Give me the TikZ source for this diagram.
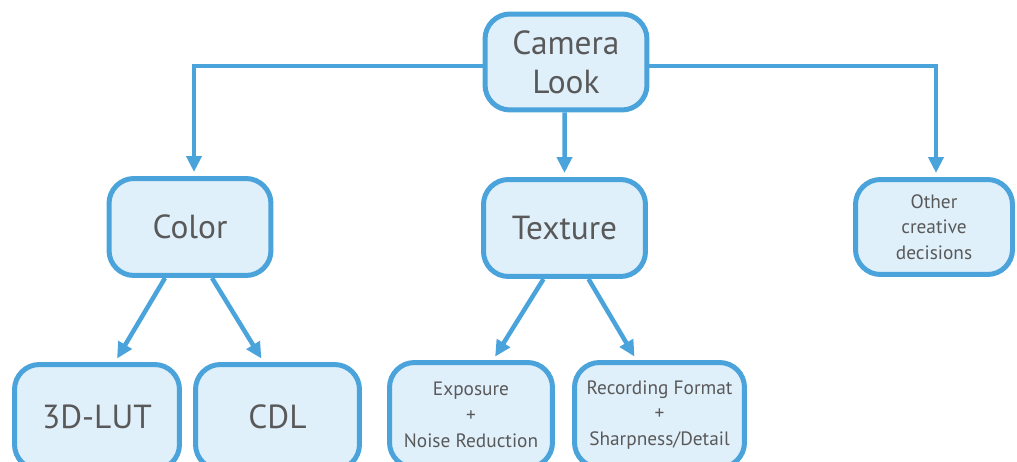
\documentclass[tikz,border=0pt]{standalone}
\usepackage{fontspec}
\setmainfont{PT Sans}
\usepackage{tikz}
\usetikzlibrary{arrows.meta}

\definecolor{boxline}{HTML}{4BA3DB}
\definecolor{boxfill}{HTML}{E0F0FB}
\definecolor{boxtext}{HTML}{595959}

\begin{document}
\begin{tikzpicture}[x=0.02cm,y=-0.02cm,
  box/.style={draw=boxline,fill=boxfill,line width=0.1cm,rounded corners=0.5cm,
    text=boxtext,align=center,inner sep=0pt},
  big/.style={box,font=\fontsize{19}{22.3}\selectfont},
  small/.style={box,font=\fontsize{11}{14.6}\selectfont},
  link/.style={draw=boxline,line width=0.09cm,-{Triangle[length=0.32cm,width=0.3cm]},shorten >=0.08cm}]
\clip (0,0) rectangle (1017,462);

% top level
\node (cam)[big,minimum width=3.24cm,minimum height=1.92cm] at (566,62) {Camera\\Look};

% second level
\node (color)[big,minimum width=3.24cm,minimum height=1.94cm] at (190,227) {Color};
\node (tex)[big,minimum width=3.24cm,minimum height=1.94cm] at (564.5,228) {Texture};
\node (other)[small,minimum width=3.14cm,minimum height=1.9cm] at (934,227) {Other\\creative\\decisions};

% third level, cut off at the bottom edge
\node (lut)[big,minimum width=3.3cm,minimum height=2.1cm] at (97,417) {3D-LUT};
\node (cdl)[big,minimum width=3.28cm,minimum height=2.1cm] at (277.5,417) {CDL};
\node (expo)[small,minimum width=3.26cm,minimum height=2.1cm] at (471,415) {Exposure\\+\\Noise Reduction};
\node (rec)[small,minimum width=3.4cm,minimum height=2.1cm] at (659.5,415) {Recording Format\\+\\Sharpness/Detail};

% connectors
\draw[link] ([yshift=-0.08cm]cam.west) -| ([xshift=0.08cm]color.north);
\draw[link] ([yshift=-0.08cm]cam.east) -| ([xshift=0.04cm]other.north);
\draw[link] ([xshift=-0.03cm]cam.south) -- (tex.north);
\draw[link] ([xshift=-0.5cm]color.south) -- ([xshift=0.36cm]lut.north);
\draw[link] ([xshift=0.44cm]color.south) -- ([xshift=-0.28cm]cdl.north);
\draw[link] ([xshift=-0.42cm]tex.south) -- ([xshift=0.44cm]expo.north);
\draw[link] ([xshift=0.48cm]tex.south) -- ([xshift=-0.46cm]rec.north);
\end{tikzpicture}
\end{document}
